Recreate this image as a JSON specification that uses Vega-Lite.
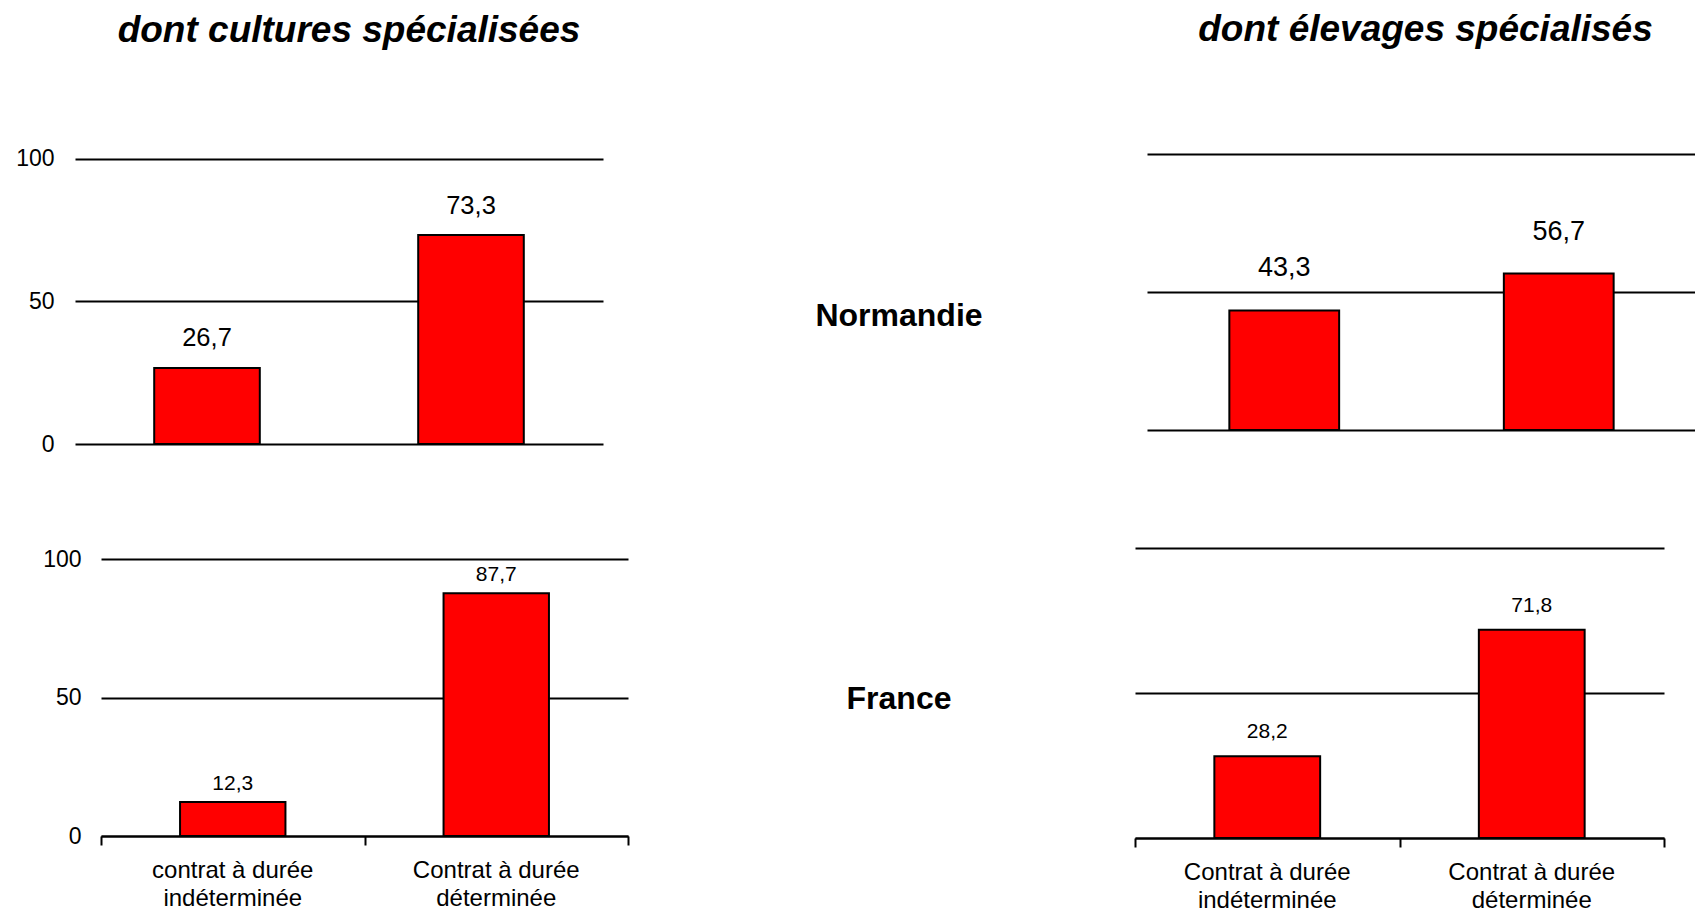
{
  "$schema": "https://vega.github.io/schema/vega-lite/v6.json",
  "padding": {"left": 15, "top": 11, "right": 0, "bottom": 0},
  "config": {
    "font": "Liberation Sans",
    "view": {"stroke": null},
    "axis": {"labelColor": "black", "gridColor": "black", "gridOpacity": 1, "gridWidth": 2, "domainColor": "black", "tickColor": "black"},
    "title": {"color": "black"}
  },
  "spacing": 394,
  "bounds": "flush",
  "vconcat": [
    {
      "spacing": 58,
      "bounds": "flush",
      "hconcat": [
        {
          "width": 528,
          "height": 290,
          "title": {"text": "dont cultures spécialisées", "fontSize": 37, "fontStyle": "italic", "fontWeight": "bold", "offset": 98, "dx": 10},
          "data": {"values": [
            {"contrat": "contrat à durée indéterminée", "pct": 26.7},
            {"contrat": "Contrat à durée déterminée", "pct": 73.3}
          ]},
          "encoding": {
            "x": {"field": "contrat", "type": "nominal", "sort": null, "scale": {"paddingInner": 0, "paddingOuter": 0}, "axis": null},
            "y": {"field": "pct", "type": "quantitative", "scale": {"domain": [0, 101.75], "nice": false}, "axis": {"title": null, "values": [0, 50, 100], "grid": true, "domain": false, "ticks": false, "labelFontSize": 23, "labelPadding": 21}}
          },
          "layer": [
            {"mark": {"type": "bar", "fill": "#FF0000", "stroke": "black", "strokeWidth": 2, "width": {"band": 0.4}}},
            {"mark": {"type": "text", "dy": -21.5, "fontSize": 25.5, "baseline": "alphabetic", "color": "black", "text": {"expr": "replace(format(datum.pct, '.1f'), '.', ',')"}}}
          ]
        },
        {
          "spacing": 10,
          "bounds": "flush",
          "hconcat": [
            {
              "width": 476,
              "height": 324,
              "data": {"values": [{"region": "Normandie"}]},
              "mark": {"type": "text", "fontSize": 32, "fontWeight": "bold", "baseline": "middle", "align": "center", "color": "black"},
              "encoding": {
                "x": {"field": "region", "type": "nominal", "scale": {"type": "point"}, "axis": null},
                "y": {"field": "region", "type": "nominal", "scale": {"type": "point"}, "axis": null},
                "text": {"field": "region", "type": "nominal"}
              }
            },
            {
              "width": 549,
              "height": 276,
              "title": {"text": "dont élevages spécialisés", "fontSize": 37, "fontStyle": "italic", "fontWeight": "bold", "offset": 105, "dx": 4},
              "data": {"values": [
                {"contrat": "Contrat à durée indéterminée", "pct": 43.3},
                {"contrat": "Contrat à durée déterminée", "pct": 56.7}
              ]},
              "encoding": {
                "x": {"field": "contrat", "type": "nominal", "sort": null, "scale": {"paddingInner": 0, "paddingOuter": 0}, "axis": null},
                "y": {"field": "pct", "type": "quantitative", "scale": {"domain": [0, 100], "nice": false}, "axis": {"title": null, "values": [0, 50, 100], "grid": true, "domain": false, "ticks": false, "labels": false}}
              },
              "layer": [
                {"mark": {"type": "bar", "fill": "#FF0000", "stroke": "black", "strokeWidth": 2, "width": {"band": 0.4}}},
                {"mark": {"type": "text", "dy": -34, "fontSize": 27, "baseline": "alphabetic", "color": "black", "text": {"expr": "replace(format(datum.pct, '.1f'), '.', ',')"}}}
              ]
            }
          ]
        }
      ]
    },
    {
      "spacing": 10,
      "bounds": "flush",
      "hconcat": [
        {
          "width": 16,
          "height": 10,
          "data": {"values": [{"blank": " "}]},
          "mark": {"type": "text", "fontSize": 1},
          "encoding": {"text": {"field": "blank", "type": "nominal"}}
        },
        {
          "spacing": 45,
          "bounds": "flush",
          "hconcat": [
            {
              "width": 527,
              "height": 288,
              "data": {"values": [
                {"contrat": "contrat à durée indéterminée", "pct": 12.3},
                {"contrat": "Contrat à durée déterminée", "pct": 87.7}
              ]},
              "encoding": {
                "x": {"field": "contrat", "type": "nominal", "sort": null, "scale": {"paddingInner": 0, "paddingOuter": 0}, "axis": {"title": null, "domain": true, "domainWidth": 2, "ticks": true, "tickBand": "extent", "tickSize": 9, "tickWidth": 2, "labels": false}},
                "y": {"field": "pct", "type": "quantitative", "scale": {"domain": [0, 104], "nice": false}, "axis": {"title": null, "values": [0, 50, 100], "grid": true, "domain": false, "ticks": false, "labelFontSize": 23, "labelPadding": 20}}
              },
              "layer": [
                {"mark": {"type": "bar", "fill": "#FF0000", "stroke": "black", "strokeWidth": 2, "width": {"band": 0.4}}},
                {"mark": {"type": "text", "dy": -12, "fontSize": 21, "baseline": "alphabetic", "color": "black", "text": {"expr": "replace(format(datum.pct, '.1f'), '.', ',')"}}},
                {"mark": {"type": "text", "dy": 35, "fontSize": 24, "baseline": "middle", "color": "black", "text": {"expr": "slice(datum.contrat, 0, 15)"}}, "encoding": {"y": {"datum": 0}}},
                {"mark": {"type": "text", "dy": 63, "fontSize": 24, "baseline": "middle", "color": "black", "text": {"expr": "slice(datum.contrat, 16)"}}, "encoding": {"y": {"datum": 0}}}
              ]
            },
            {
              "spacing": 10,
              "bounds": "flush",
              "hconcat": [
                {
                  "width": 452,
                  "height": 301,
                  "data": {"values": [{"region": "France"}]},
                  "mark": {"type": "text", "fontSize": 32, "fontWeight": "bold", "baseline": "middle", "align": "center", "color": "black"},
                  "encoding": {
                    "x": {"field": "region", "type": "nominal", "scale": {"type": "point"}, "axis": null},
                    "y": {"field": "region", "type": "nominal", "scale": {"type": "point"}, "axis": null},
                    "text": {"field": "region", "type": "nominal"}
                  }
                },
                {
                  "width": 529,
                  "height": 290,
                  "data": {"values": [
                    {"contrat": "Contrat à durée indéterminée", "pct": 28.2},
                    {"contrat": "Contrat à durée déterminée", "pct": 71.8}
                  ]},
                  "encoding": {
                    "x": {"field": "contrat", "type": "nominal", "sort": null, "scale": {"paddingInner": 0, "paddingOuter": 0}, "axis": {"title": null, "domain": true, "domainWidth": 2, "ticks": true, "tickBand": "extent", "tickSize": 9, "tickWidth": 2, "labels": false}},
                    "y": {"field": "pct", "type": "quantitative", "scale": {"domain": [0, 100], "nice": false}, "axis": {"title": null, "values": [0, 50, 100], "grid": true, "domain": false, "ticks": false, "labels": false}}
                  },
                  "layer": [
                    {"mark": {"type": "bar", "fill": "#FF0000", "stroke": "black", "strokeWidth": 2, "width": {"band": 0.4}}},
                    {"mark": {"type": "text", "dy": -18, "fontSize": 21, "baseline": "alphabetic", "color": "black", "text": {"expr": "replace(format(datum.pct, '.1f'), '.', ',')"}}},
                    {"mark": {"type": "text", "dy": 35, "fontSize": 24, "baseline": "middle", "color": "black", "text": {"expr": "slice(datum.contrat, 0, 15)"}}, "encoding": {"y": {"datum": 0}}},
                    {"mark": {"type": "text", "dy": 63, "fontSize": 24, "baseline": "middle", "color": "black", "text": {"expr": "slice(datum.contrat, 16)"}}, "encoding": {"y": {"datum": 0}}}
                  ]
                }
              ]
            }
          ]
        }
      ]
    }
  ]
}
